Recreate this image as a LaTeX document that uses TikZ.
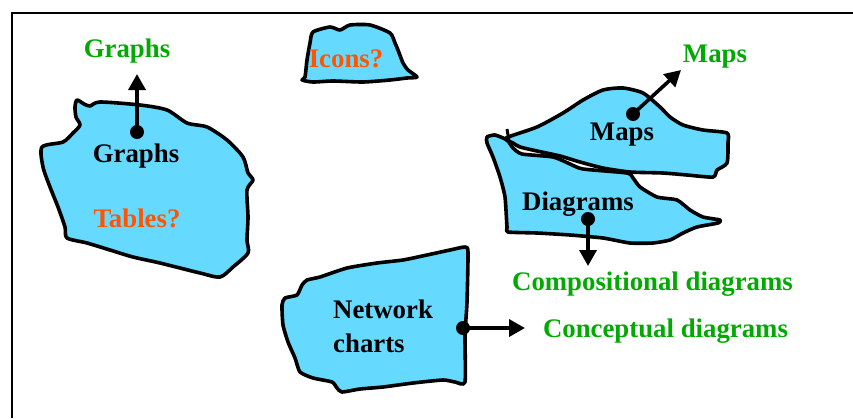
\documentclass[tikz,border=0pt]{standalone}
\usepackage{fontspec}
\setmainfont{Liberation Serif}
\usetikzlibrary{arrows.meta}
\definecolor{blobblue}{RGB}{102,217,255}
\definecolor{lblgreen}{RGB}{0,170,0}
\definecolor{lblorange}{RGB}{255,85,0}
\tikzset{
  blob/.style={draw=black, fill=blobblue, line width=3.6pt, line join=round},
  txt/.style={font=\fontsize{26.8}{30}\selectfont\bfseries, inner sep=0pt, anchor=base},
  blk/.style={txt, text=black},
  grn/.style={txt, text=lblgreen},
  org/.style={txt, text=lblorange},
  dotnode/.style={circle, fill=black, minimum size=14pt, inner sep=0pt},
  arr/.style={line width=3.6pt, -{Triangle[length=16pt,width=17pt]}},
}
\begin{document}
\begin{tikzpicture}[x=1pt,y=-1pt]
\useasboundingbox (0,0) rectangle (853,418);
\fill[white] (0,0) rectangle (853,418);
% frame
\draw[line width=2pt] (12,418) -- (12,13) -- (853,13);

% Graphs blob
\draw[blob] plot[smooth cycle, tension=0.45] coordinates {
 (77,100) (84,104) (90,106) (100,102) (140,105) (167,110) (187,123) (207,127)
 (227,140) (243,157) (248,173) (253,180) (247,190) (248,217) (247,240) (248,253)
 (233,267) (220,277) (200,273) (160,263) (133,257) (110,250) (87,243) (67,238)
 (65,227) (58,207) (50,187) (43,167) (42,147) (63,142) (73,133) (80,125) (76,117) (75,107)};

% Icons blob
\draw[blob] plot[smooth cycle, tension=0.4] coordinates {
 (313,32) (330,27) (340,30) (350,25) (370,25) (390,33) (395,43) (398,50)
 (403,63) (408,70) (417,77) (407,78) (390,80) (363,82) (333,81) (313,82)
 (302,80) (305,77) (307,60) (310,43)};

% Diagrams blob
\draw[blob] plot[smooth cycle, tension=0.35] coordinates {
 (487,137) (495,135) (507,140) (513,148) (522,154) (553,157) (570,164) (583,169)
 (627,173) (633,178) (640,187) (657,197) (677,200) (690,210) (703,217) (720,220)
 (718,223) (697,227) (683,233) (670,240) (653,243) (630,243) (603,238) (570,235)
 (537,233) (508,232) (507,227) (505,197) (500,177) (493,157) (487,143)};

% Maps blob
\draw[blob] plot[smooth cycle, tension=0.4] coordinates {
 (506,138) (537,127) (563,113) (583,100) (603,90) (623,88) (643,93) (660,107)
 (670,117) (683,125) (703,130) (727,133) (728,143) (727,163) (717,170) (713,177)
 (687,175) (663,173) (630,172) (603,168) (580,162) (560,156) (537,151) (520,147) (513,143)};
\draw[line width=3pt] (507,129) -- (509,141);

% Network blob
\draw[blob] plot[smooth cycle, tension=0.35] coordinates {
 (465,247) (468,252) (467,302) (465,335) (465,382) (455,382) (443,380) (413,383)
 (383,387) (360,389) (342,392) (337,388) (332,382) (313,378) (300,372) (295,358)
 (288,342) (283,325) (282,305) (285,298) (297,295) (302,285) (307,280) (320,277)
 (347,268) (377,263) (403,260) (427,255) (450,250)};

% texts
\node[grn] (gGraphs) at (127,57) {Graphs};
\node[blk] (bGraphs) at (136,162) {Graphs};
\node[org] (tables) at (137,227) {Tables?};
\node[org] (icons) at (346,67) {Icons?};
\node[grn] (gMaps) at (715,62) {Maps};
\node[blk] (bMaps) at (622,140) {Maps};
\node[blk] (bDiag) at (578,210) {Diagrams};
\node[grn] (comp) at (652.5,290) {Compositional diagrams};
\node[grn] (conc) at (665.5,337) {Conceptual diagrams};
\node[blk, anchor=base west] (netw) at (333,318) {Network};
\node[blk, anchor=base west] (chrt) at (333,352) {charts};

% dots and arrows
\node[dotnode] (dG) at (137,132) {};
\coordinate (eG) at (137,74);
\draw[arr] (dG.center) -- (eG);

\node[dotnode] (dM) at (633,114) {};
\coordinate (eM) at (681,70);
\draw[arr] (dM.center) -- (eM);

\node[dotnode] (dD) at (588,219) {};
\coordinate (eD) at (588,266);
\draw[arr] (dD.center) -- (eD);

\node[dotnode] (dN) at (463,328) {};
\coordinate (eN) at (525,328);
\draw[arr] (dN.center) -- (eN);
\end{tikzpicture}
\end{document}
